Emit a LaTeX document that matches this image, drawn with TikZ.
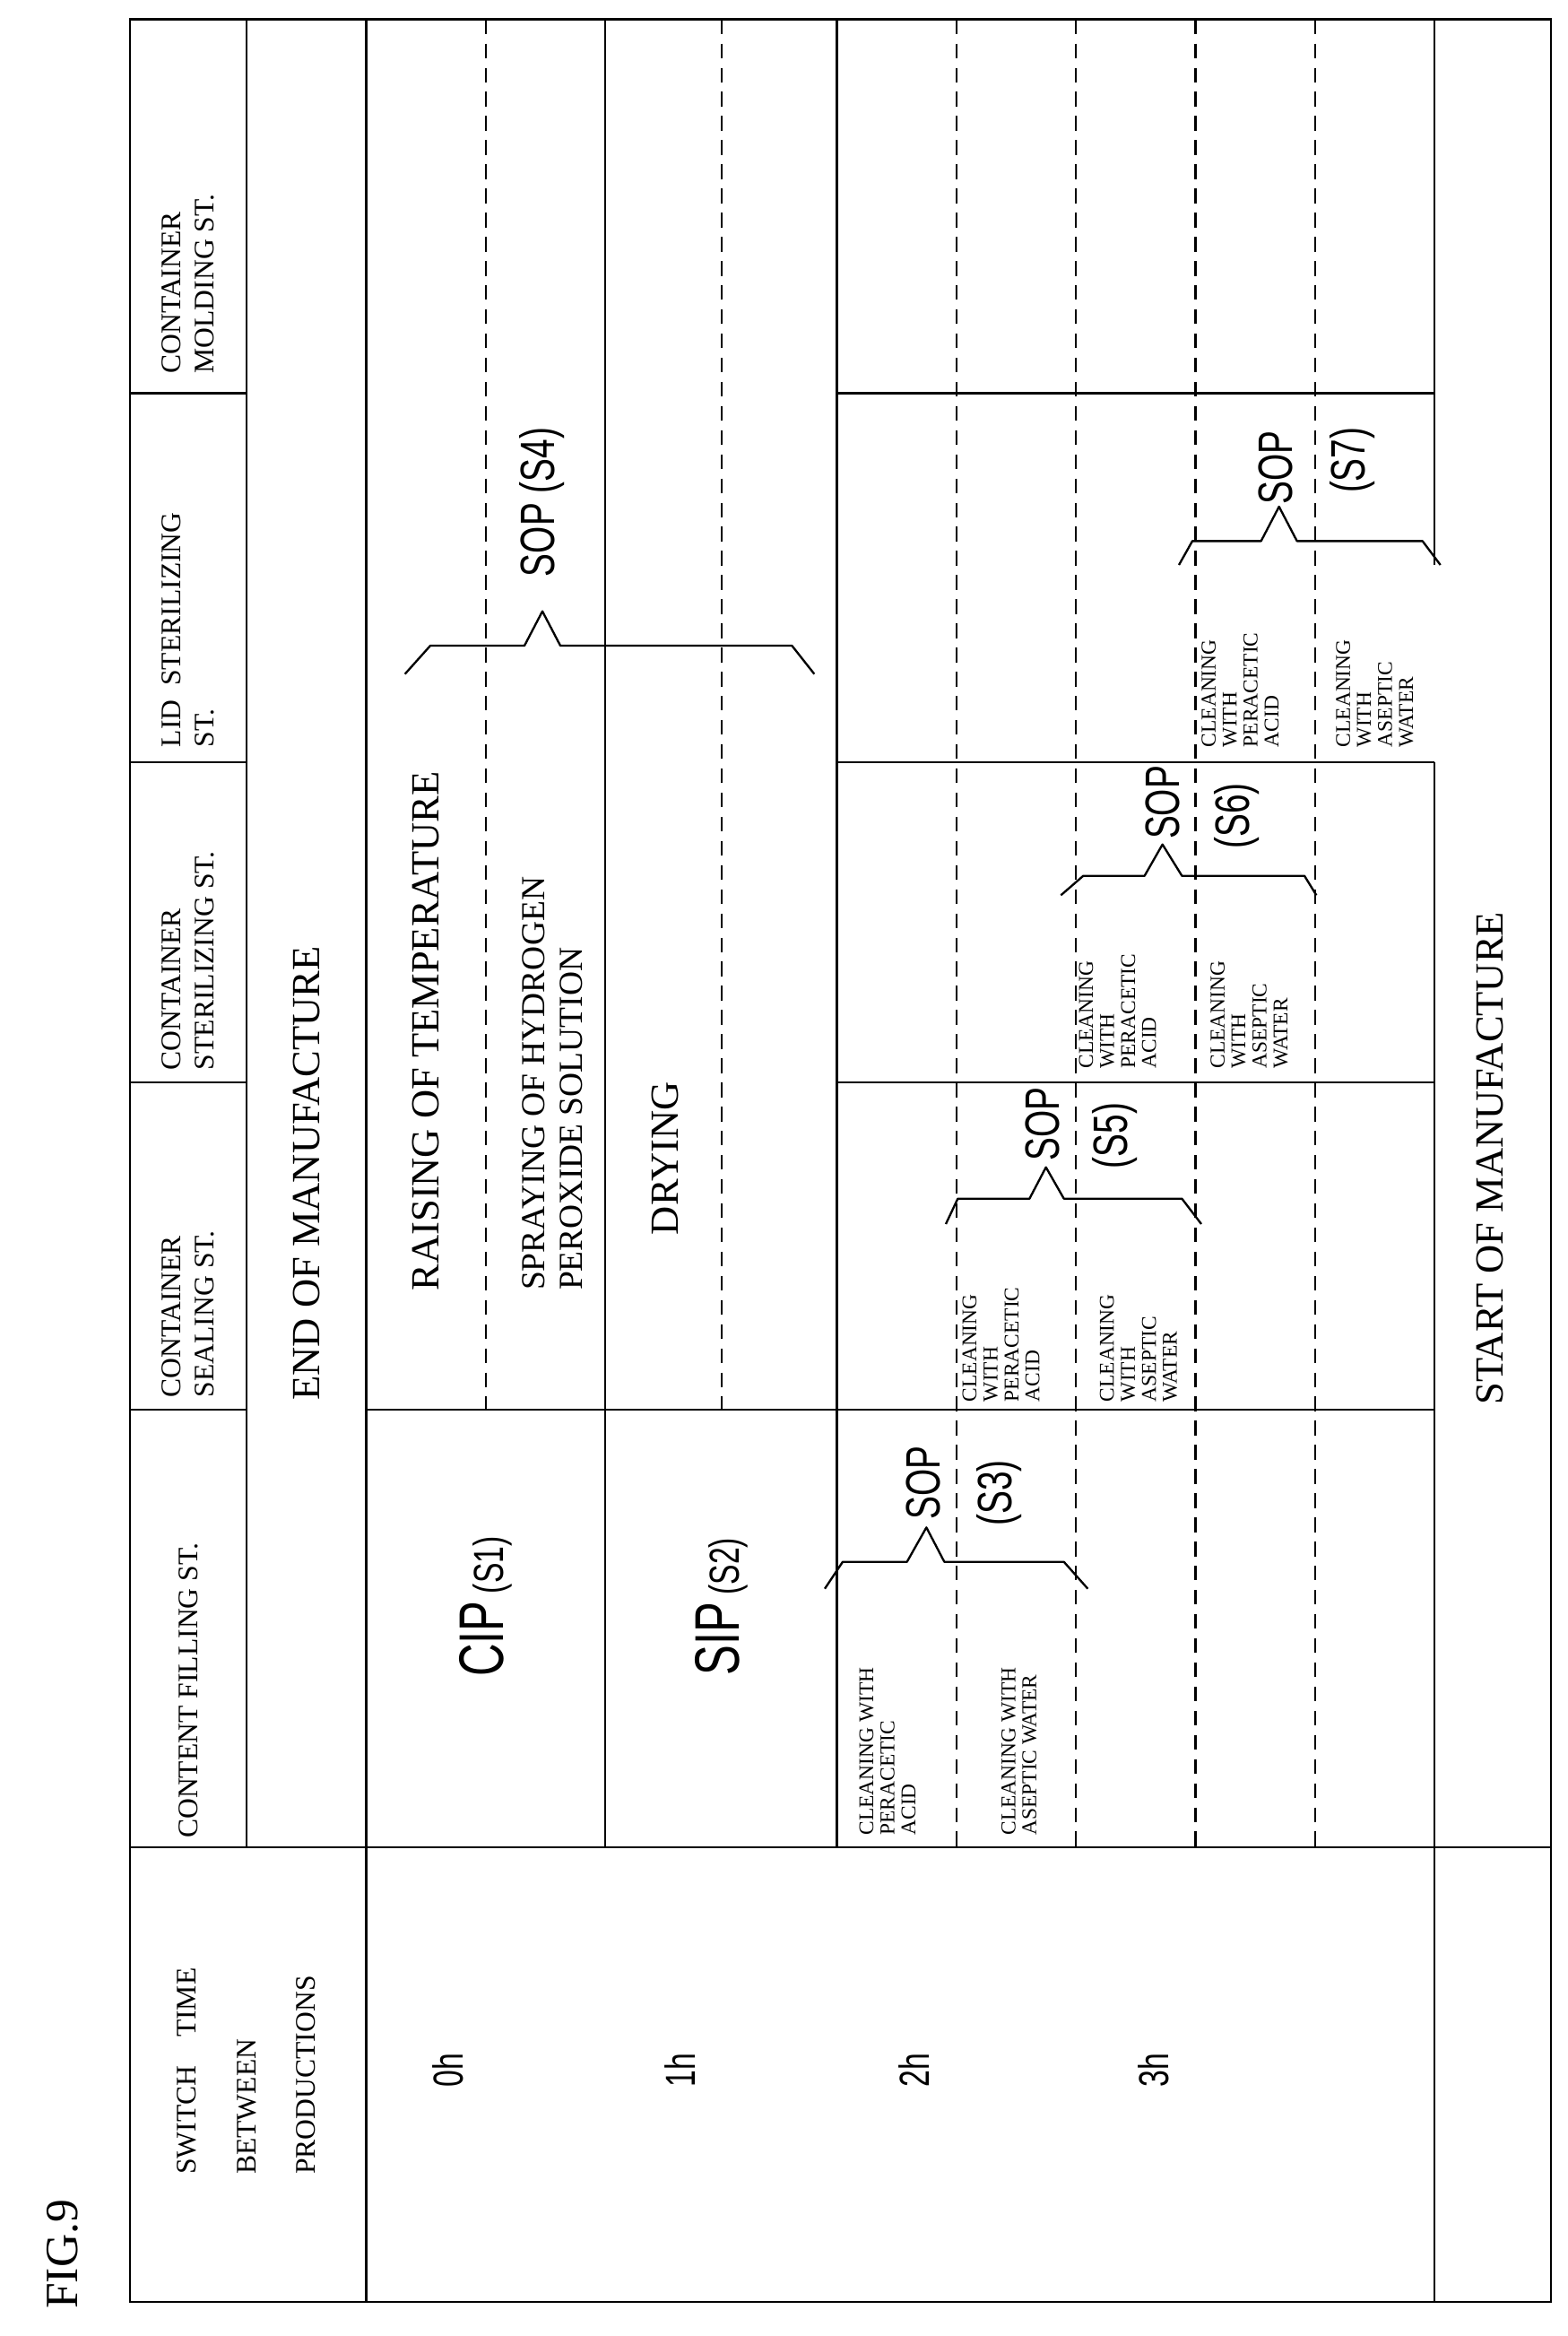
\documentclass[tikz,border=0pt]{standalone}
\usepackage{fontspec}
\setmainfont{Liberation Serif}
\newfontfamily\cond{Liberation Sans}
\tikzset{
  grid/.style={line width=2pt},
  dsh/.style={line width=2pt, dash pattern=on 14pt off 9pt},
  brc/.style={line width=2pt, line join=round},
  rt/.style={rotate=90, inner sep=0pt},
  hdr/.style={rt, font=\fontsize{27}{32}\selectfont, align=left, anchor=west},
  big/.style={rt, font=\fontsize{38}{46}\selectfont, align=left},
  small/.style={rt, font=\fontsize{20}{20}\selectfont, align=left, anchor=west},
  sop/.style={rt, font=\cond\fontsize{46}{46}\selectfont},
  hr/.style={rt, font=\cond\fontsize{40}{40}\selectfont},
}
\newcommand{\cnd}[1]{\scalebox{0.72}[1]{#1}}
\begin{document}
\begin{tikzpicture}[x=0.05cm,y=-0.05cm]
\useasboundingbox (0,0) rectangle (1049,1563);
% grid
\draw[grid] (87,13) rectangle (1038,1540);
\draw[grid] (165,13) -- (165,1236);
\draw[grid] (245,13) -- (245,1540);
\draw[grid] (960,13) -- (960,378);
\draw[grid] (960,510) -- (960,1540);
\draw[grid] (87,1236) -- (1038,1236);
\foreach \y in {263,510,724,943} \draw[grid] (87,\y) -- (165,\y);
\draw[grid] (405,13) -- (405,1236);
\draw[grid] (560,13) -- (560,1236);
\draw[grid] (245,943) -- (960,943);
\foreach \y in {263,510,724} \draw[grid] (560,\y) -- (960,\y);
\foreach \x in {325,483} \draw[dsh] (\x,13) -- (\x,943);
\foreach \x in {640,720,800,880} \draw[dsh] (\x,13) -- (\x,1236);
% braces
\draw[brc] (271,451)--(288,432)--(351,432)--(363,409)--(375,432)--(530,432)--(545,451);
\draw[brc] (552,1063)--(564,1045)--(607,1045)--(620,1022)--(632,1045)--(712,1045)--(728,1063);
\draw[brc] (633,819)--(641,802)--(689,802)--(700,781)--(712,802)--(791,802)--(804,819);
\draw[brc] (710,599)--(725,586)--(766,586)--(778,565)--(791,586)--(873,586)--(881,599);
\draw[brc] (789,378)--(798,362)--(844,362)--(856,339)--(868,362)--(952,362)--(964,378);
% headers
\node[rt, font=\fontsize{44}{44}\selectfont, anchor=west] (fig) at (42,1545) {FIG.9};
\node[hdr] (h1) at (125,1455) {SWITCH\hspace{1em}TIME};
\node[hdr] (h2) at (165,1455) {BETWEEN};
\node[hdr] (h3) at (205,1455) {PRODUCTIONS};
\node[hdr] (hc) at (126,1230) {CONTENT FILLING ST.};
\node[hdr] (hs) at (126,935) {CONTAINER\\SEALING ST.};
\node[hdr] (hz) at (126,716) {CONTAINER\\STERILIZING ST.};
\node[hdr] (hl) at (126,500) {LID\hspace{0.5em}STERILIZING\\ST.};
\node[hdr] (hm) at (126,250) {CONTAINER\\MOLDING ST.};
% time
\node[hr] (t0) at (300,1385) {\cnd{0h}};
\node[hr] (t1) at (455,1385) {\cnd{1h}};
\node[hr] (t2) at (612,1385) {\cnd{2h}};
\node[hr] (t3) at (772,1385) {\cnd{3h}};
% main texts
\node[big] (end) at (205,785) {END OF MANUFACTURE};
\node[big] (start) at (997,775) {START OF MANUFACTURE};
\node[big] (raise) at (285,690) {RAISING OF TEMPERATURE};
\node[big, font=\fontsize{32}{36}\selectfont] (spray) at (370,725) {SPRAYING OF HYDROGEN\\PEROXIDE SOLUTION};
\node[big] (dry) at (445,775) {DRYING};
\node[rt] (cip) at (325,1075) {\cnd{\cond\fontsize{60}{60}\selectfont CIP\,\fontsize{40}{40}\selectfont(S1)}};
\node[rt] (sip) at (483,1075) {\cnd{\cond\fontsize{60}{60}\selectfont SIP\,\fontsize{40}{40}\selectfont(S2)}};
% SOP labels
\node[sop] (s4) at (363,336) {\cnd{SOP (S4)}};
\node[sop] (sop3) at (618,992) {\cnd{SOP}};
\node[sop] (s3) at (669,999) {\cnd{(S3)}};
\node[sop] (sop5) at (698,752) {\cnd{SOP}};
\node[sop] (s5) at (746,760) {\cnd{(S5)}};
\node[sop] (sop6) at (778,537) {\cnd{SOP}};
\node[sop] (s6) at (828,546) {\cnd{(S6)}};
\node[sop] (sop7) at (854,313) {\cnd{SOP}};
\node[sop] (s7) at (905,308) {\cnd{(S7)}};
% small texts
\node[small] (c3a) at (594,1228) {CLEANING WITH\\PERACETIC\\ACID};
\node[small] (c3b) at (682,1228) {CLEANING WITH\\ASEPTIC WATER};
\node[small] (c5a) at (670,938) {CLEANING\\WITH\\PERACETIC\\ACID};
\node[small] (c5b) at (762,938) {CLEANING\\WITH\\ASEPTIC\\WATER};
\node[small] (c6a) at (748,715) {CLEANING\\WITH\\PERACETIC\\ACID};
\node[small] (c6b) at (836,715) {CLEANING\\WITH\\ASEPTIC\\WATER};
\node[small] (c7a) at (830,500) {CLEANING\\WITH\\PERACETIC\\ACID};
\node[small] (c7b) at (920,500) {CLEANING\\WITH\\ASEPTIC\\WATER};
\end{tikzpicture}
\end{document}
